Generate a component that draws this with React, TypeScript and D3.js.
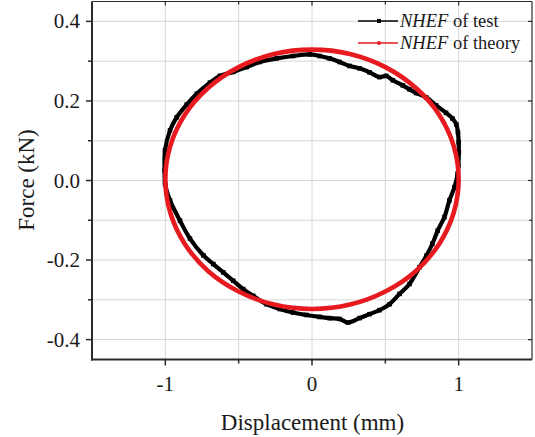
import React from "react";
import * as d3 from "d3";

const W = 535;
const H = 437;

const xTicks = [-1, 0, 1];
const xMinor = [-0.5, 0.5];
const yTicks = [-0.4, -0.2, 0.0, 0.2, 0.4];
const yMinor = [-0.3, -0.1, 0.1, 0.3];
const xLabel = "Displacement (mm)";
const yLabel = "Force (kN)";
const seriesNames = ["of test", "of theory"];

// NHEF of test, loop order
const testX = [-1.002, -1.005, -1.002, -0.968, -0.922, -0.854, -0.786, -0.696, -0.628, -0.537, -0.446, -0.356, -0.242, -0.129, -0.016, 0.052, 0.12, 0.188, 0.256, 0.324, 0.392, 0.46, 0.506, 0.551, 0.619, 0.665, 0.71, 0.778, 0.846, 0.914, 0.957, 0.984, 0.995, 1.0, 1.001, 0.998, 0.993, 0.971, 0.937, 0.903, 0.857, 0.821, 0.78, 0.733, 0.665, 0.597, 0.529, 0.46, 0.392, 0.324, 0.245, 0.188, 0.12, 0.052, -0.038, -0.129, -0.22, -0.31, -0.401, -0.469, -0.537, -0.605, -0.673, -0.741, -0.832, -0.9, -0.968];
const testY = [-0.008, 0.025, 0.076, 0.126, 0.159, 0.191, 0.218, 0.246, 0.263, 0.273, 0.285, 0.298, 0.307, 0.313, 0.317, 0.313, 0.307, 0.298, 0.288, 0.282, 0.272, 0.26, 0.263, 0.252, 0.239, 0.229, 0.22, 0.209, 0.189, 0.17, 0.156, 0.141, 0.121, 0.096, 0.071, 0.038, 0.017, -0.017, -0.05, -0.092, -0.126, -0.159, -0.189, -0.218, -0.26, -0.285, -0.311, -0.326, -0.336, -0.346, -0.357, -0.348, -0.346, -0.343, -0.338, -0.332, -0.323, -0.311, -0.29, -0.273, -0.252, -0.231, -0.21, -0.188, -0.146, -0.101, -0.05];

// NHEF of theory
const theoryX = [1.0, 0.966, 0.866, 0.707, 0.5, 0.259, 0.0, -0.259, -0.5, -0.707, -0.866, -0.966, -1.0, -0.966, -0.866, -0.707, -0.5, -0.259, 0.0, 0.259, 0.5, 0.707, 0.866, 0.966];
const theoryY = [0.003, 0.087, 0.166, 0.233, 0.285, 0.318, 0.329, 0.318, 0.285, 0.233, 0.166, 0.087, 0.003, -0.081, -0.16, -0.228, -0.279, -0.312, -0.323, -0.312, -0.279, -0.228, -0.16, -0.081];

const FONT = "'Liberation Serif', 'Times New Roman', serif";

export default function App() {
  const left = 92, right = 532, top = 1.5, bottom = 359.5;
  const x = d3.scaleLinear().domain([-1.5, 1.5]).range([left, right]);
  const y = d3.scaleLinear().domain([-0.45, 0.45]).range([bottom, top]);

  const line = d3
    .line<[number, number]>()
    .x((d) => x(d[0]))
    .y((d) => y(d[1]))
    .curve(d3.curveCatmullRomClosed.alpha(0.5));

  const testPts: [number, number][] = testX.map((v, i) => [v, testY[i]]);
  const theoryPts: [number, number][] = theoryX.map((v, i) => [v, theoryY[i]]);

  const grid = "#d6d6d6";
  const axisCol = "#2a2a2a";
  const red = "#e61a1f";
  const allX = [...xTicks, ...xMinor];
  const allY = [...yTicks, ...yMinor];

  return (
    <svg
      width={W}
      height={H}
      style={{ position: "absolute", left: 0, top: 0, background: "#fff" }}
      fontFamily={FONT}
    >
      <rect x={0} y={0} width={W} height={H} fill="#fff" />
      {/* grid */}
      {allX.map((v) => (
        <line key={"gx" + v} x1={x(v)} x2={x(v)} y1={top} y2={bottom} stroke={grid} strokeWidth={1} />
      ))}
      {allY.map((v) => (
        <line key={"gy" + v} x1={left} x2={right} y1={y(v)} y2={y(v)} stroke={grid} strokeWidth={1} />
      ))}

      {/* data */}
      <path d={line(testPts) || ""} fill="none" stroke="#000" strokeWidth={4.2} />
      {testPts.map((p, i) => (
        <rect key={"tm" + i} x={x(p[0]) - 2.3} y={y(p[1]) - 2.3} width={4.6} height={4.6} fill="#000" />
      ))}
      <path d={line(theoryPts) || ""} fill="none" stroke={red} strokeWidth={4.6} />

      {/* frame */}
      <line x1={left} x2={right} y1={top} y2={top} stroke={axisCol} strokeWidth={1.2} />
      <line x1={right} x2={right} y1={top} y2={bottom} stroke={axisCol} strokeWidth={1.2} />
      <line x1={left} x2={left} y1={top} y2={bottom + 1} stroke={axisCol} strokeWidth={2} />
      <line x1={left - 1} x2={right} y1={bottom} y2={bottom} stroke={axisCol} strokeWidth={2} />

      {/* y ticks */}
      {yTicks.map((v) => (
        <g key={"yt" + v}>
          <line x1={left - 6} x2={left} y1={y(v)} y2={y(v)} stroke={axisCol} strokeWidth={1.5} />
          <line x1={right - 4} x2={right} y1={y(v)} y2={y(v)} stroke={axisCol} strokeWidth={1.2} />
          <text x={left - 12} y={y(v) + 7} textAnchor="end" fontSize={21} fill="#1a1a1a">
            {v.toFixed(1).replace("-0.0", "0.0")}
          </text>
        </g>
      ))}
      {yMinor.map((v) => (
        <g key={"ym" + v}>
          <line x1={left - 4} x2={left} y1={y(v)} y2={y(v)} stroke={axisCol} strokeWidth={1.5} />
          <line x1={right - 3} x2={right} y1={y(v)} y2={y(v)} stroke={axisCol} strokeWidth={1.2} />
        </g>
      ))}

      {/* x ticks */}
      {xTicks.map((v) => (
        <g key={"xt" + v}>
          <line x1={x(v)} x2={x(v)} y1={bottom} y2={bottom + 6} stroke={axisCol} strokeWidth={1.5} />
          <line x1={x(v)} x2={x(v)} y1={top} y2={top + 4} stroke={axisCol} strokeWidth={1.2} />
          <text x={x(v)} y={391} textAnchor="middle" fontSize={21} fill="#1a1a1a">
            {String(v)}
          </text>
        </g>
      ))}
      {xMinor.map((v) => (
        <g key={"xm" + v}>
          <line x1={x(v)} x2={x(v)} y1={bottom} y2={bottom + 4} stroke={axisCol} strokeWidth={1.5} />
          <line x1={x(v)} x2={x(v)} y1={top} y2={top + 3} stroke={axisCol} strokeWidth={1.2} />
        </g>
      ))}

      {/* axis titles */}
      <text x={(left + right) / 2 + 0.5} y={430} textAnchor="middle" fontSize={23} fill="#1a1a1a">
        {xLabel}
      </text>
      <text
        transform={`translate(34, ${y(0) - 0.5}) rotate(-90)`}
        textAnchor="middle"
        fontSize={23}
        fill="#1a1a1a"
      >
        {yLabel}
      </text>

      {/* legend */}
      <g>
        <line x1={358} x2={398} y1={21} y2={21} stroke="#000" strokeWidth={1.6} />
        <rect x={377} y={19} width={4} height={4} fill="#000" />
        <text x={400} y={27} fontSize={18.5} fill="#1a1a1a">
          <tspan fontStyle="italic">NHEF</tspan>
          <tspan> {seriesNames[0]}</tspan>
        </text>
        <line x1={358} x2={398} y1={43} y2={43} stroke={red} strokeWidth={1.6} />
        <circle cx={379} cy={43} r={2} fill={red} />
        <text x={400} y={49} fontSize={18.5} fill="#1a1a1a">
          <tspan fontStyle="italic">NHEF</tspan>
          <tspan> {seriesNames[1]}</tspan>
        </text>
      </g>
    </svg>
  );
}
